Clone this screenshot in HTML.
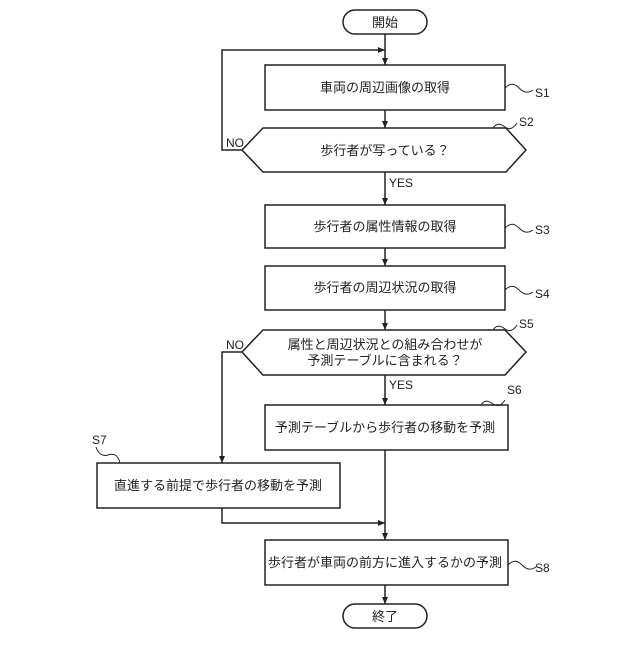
<!DOCTYPE html>
<html><head><meta charset="utf-8"><style>
html,body{margin:0;padding:0;background:#fff;}
svg text{font-family:"Liberation Sans","Noto Sans CJK JP",sans-serif;fill:#222;}
</style></head><body>
<svg width="640" height="640" viewBox="0 0 640 640" xmlns="http://www.w3.org/2000/svg">
<defs><marker id="a" markerWidth="8" markerHeight="8" refX="7" refY="4" orient="auto" markerUnits="userSpaceOnUse"><path d="M0,1 L7,4 L0,7 Z" fill="#222"/></marker></defs>
<g stroke="#222" stroke-width="1.5" fill="none">
<rect x="343" y="10" width="84" height="24" rx="12" fill="#fff"/>
<rect x="265" y="65" width="240" height="45" fill="#fff"/>
<polygon points="242,150 263,128 506,128 526,150 506,172 263,172" fill="#fff"/>
<rect x="265" y="205" width="240" height="43" fill="#fff"/>
<rect x="265" y="266" width="240" height="44" fill="#fff"/>
<polygon points="242,352 263,330 505,330 526,352 505,375 263,375" fill="#fff"/>
<rect x="265" y="405" width="243" height="45" fill="#fff"/>
<rect x="97" y="463" width="243" height="45" fill="#fff"/>
<rect x="265" y="540" width="243" height="45" fill="#fff"/>
<rect x="343" y="604" width="84" height="24" rx="12" fill="#fff"/>
<line x1="385" y1="34" x2="385" y2="65" marker-end="url(#a)"/>
<polyline points="242,150 222,150 222,50 385,50" marker-end="url(#a)"/>
<line x1="385" y1="110" x2="385" y2="128" marker-end="url(#a)"/>
<line x1="385" y1="172" x2="385" y2="205" marker-end="url(#a)"/>
<line x1="385" y1="248" x2="385" y2="266" marker-end="url(#a)"/>
<line x1="385" y1="310" x2="385" y2="330" marker-end="url(#a)"/>
<line x1="385" y1="375" x2="385" y2="405" marker-end="url(#a)"/>
<polyline points="242,352 222,352 222,463" marker-end="url(#a)"/>
<line x1="385" y1="450" x2="385" y2="540" marker-end="url(#a)"/>
<polyline points="222,508 222,523 385,523" marker-end="url(#a)"/>
<line x1="385" y1="585" x2="385" y2="604" marker-end="url(#a)"/>
<g stroke-width="1">
<path d="M505,88 c6,-6 10,-4 14,0 s8,6 14,2"/>
<path d="M493,128 c4,-6 8,-4 12,-1 s8,2 12,-4"/>
<path d="M505,228 c6,-6 10,-4 14,0 s8,6 14,2"/>
<path d="M505,290 c6,-6 10,-4 14,0 s8,6 14,2"/>
<path d="M493,330 c4,-6 8,-4 12,-1 s8,2 12,-4"/>
<path d="M481,405 c4,-6 8,-4 12,-1 s8,2 12,-4"/>
<path d="M120,463 c-2,-8 -6,-10 -12,-8 s-10,-2 -12,-8"/>
<path d="M508,565 c6,-6 10,-4 14,0 s8,6 14,2"/>
</g>
</g>
<g font-size="13" text-anchor="middle">
<text x="385" y="27">開始</text>
<text x="385" y="92">車両の周辺画像の取得</text>
<text x="385" y="155">歩行者が写っている？</text>
<text x="385" y="231">歩行者の属性情報の取得</text>
<text x="385" y="292">歩行者の周辺状況の取得</text>
<text x="385" y="349">属性と周辺状況との組み合わせが</text>
<text x="385" y="365">予測テーブルに含まれる？</text>
<text x="385" y="432">予測テーブルから歩行者の移動を予測</text>
<text x="218" y="490">直進する前提で歩行者の移動を予測</text>
<text x="385" y="567">歩行者が車両の前方に進入するかの予測</text>
<text x="385" y="621">終了</text>
</g>
<g font-size="12">
<text x="535" y="97">S1</text>
<text x="519" y="126">S2</text>
<text x="535" y="234">S3</text>
<text x="535" y="298">S4</text>
<text x="519" y="328">S5</text>
<text x="507" y="394">S6</text>
<text x="92" y="444">S7</text>
<text x="535" y="572">S8</text>
<text x="226" y="147">NO</text>
<text x="226" y="349">NO</text>
<text x="389" y="187">YES</text>
<text x="389" y="389">YES</text>
</g>
</svg>
</body></html>
